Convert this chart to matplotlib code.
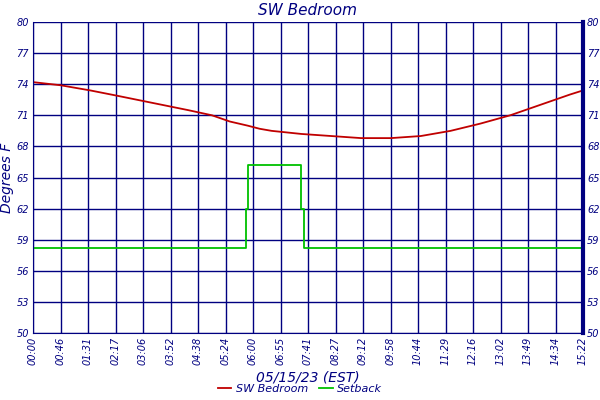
import matplotlib
matplotlib.use("Agg")
import matplotlib.pyplot as plt
import numpy as np

tick_labels = ["00:00","00:46","01:31","02:17","03:06","03:52","04:38","05:24","06:00","06:55",
               "07:41","08:27","09:12","09:58","10:44","11:29","12:16","13:02","13:49","14:34","15:22"]
y_ticks = [50,53,56,59,62,65,68,71,74,77,80]

room_t = [0, 46, 96, 140, 200, 260, 300, 330, 360, 380, 400, 450, 500, 550, 600, 650, 700, 750, 800, 850, 900, 922]
room_v = [74.2, 73.9, 73.4, 72.9, 72.2, 71.5, 71.0, 70.4, 70.0, 69.7, 69.5, 69.2, 69.0, 68.8, 68.8, 69.0, 69.5, 70.2, 71.0, 72.0, 73.0, 73.4]
set_t = [0, 357, 357, 360, 360, 449, 449, 454, 454, 922]
set_v = [58.2, 58.2, 62.0, 62.0, 66.2, 66.2, 62.0, 62.0, 58.2, 58.2]

navy = "#000080"
fig = plt.figure(figsize=(6, 4), dpi=100)
ax = fig.add_axes([33/600, 1-333/400, 550/600, 311/400])
ax.plot(room_t, room_v, color="#c00000", lw=1.3, label="SW Bedroom")
ax.plot(set_t, set_v, color="#00c000", lw=1.3, label="Setback")
ax.set_xlim(0, 922)
ax.set_ylim(50, 80)
xt = np.linspace(0, 922, len(tick_labels))
ax.set_xticks(xt)
ax.set_xticklabels(tick_labels, rotation=90, fontsize=7, style="italic", color=navy)
ax.set_yticks(y_ticks)
ax.set_yticklabels([str(v) for v in y_ticks], fontsize=7, style="italic", color=navy)
ax.tick_params(axis="y", which="both", right=True, labelright=True, length=0, pad=3)
ax.tick_params(axis="x", length=0, pad=3)
ax.grid(True, color=navy, lw=1)
for s in ax.spines.values():
    s.set_color(navy)
ax.spines["right"].set_linewidth(3)
ax.spines["top"].set_visible(False)
ax.set_title("SW Bedroom", fontsize=11, style="italic", color=navy, pad=5)
ax.set_ylabel("Degrees F", fontsize=10, style="italic", color=navy, labelpad=2)
ax.set_xlabel("05/15/23 (EST)", fontsize=10, style="italic", color=navy, labelpad=4)
leg = fig.legend(loc="lower center", bbox_to_anchor=(0.5, -0.01), ncol=2, frameon=False,
                 fontsize=8, handlelength=1.2, columnspacing=1.0, handletextpad=0.4)
for t in leg.get_texts():
    t.set_color(navy); t.set_fontstyle("italic")
fig.savefig("out.png", dpi=100)
